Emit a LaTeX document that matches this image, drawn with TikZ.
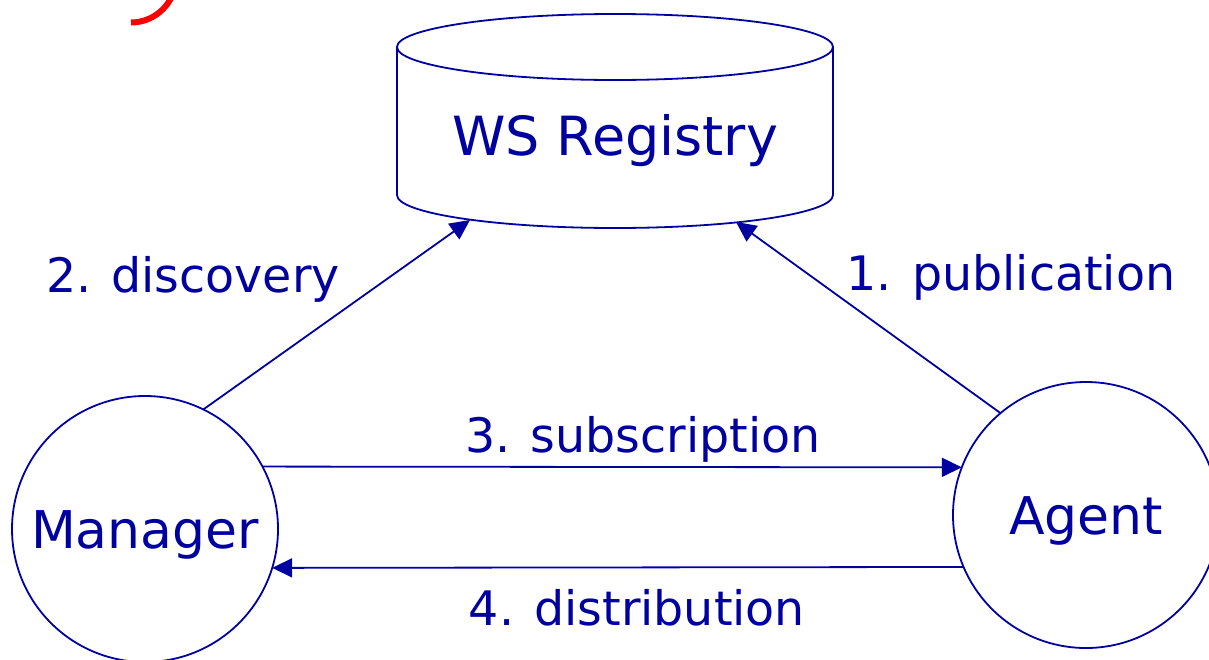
\documentclass[tikz,border=0pt]{standalone}
\usepackage{fontspec}
\setsansfont{DejaVu Sans}
\usetikzlibrary{arrows.meta}
\definecolor{wsblue}{RGB}{0,0,160}

\begin{document}
\begin{tikzpicture}[
  x=1pt, y=-1pt,
  font=\sffamily,
  actor/.style={draw=wsblue, circle, minimum size=266pt, inner sep=0pt, outer sep=0pt,
                line width=1.8pt, text=wsblue, text height=38pt, text depth=0pt,
                font=\sffamily\fontsize{52pt}{60pt}\selectfont},
  title/.style={text=wsblue, anchor=base, inner sep=0pt,
                font=\sffamily\fontsize{54pt}{62pt}\selectfont},
  msg/.style={text=wsblue, anchor=base, inner sep=0pt,
              font=\sffamily\fontsize{47.5pt}{56pt}\selectfont},
  store/.style={draw=wsblue, line width=1.8pt},
  flow/.style={-{Triangle[length=20pt,width=19pt]}, line width=1.8pt, wsblue},
]
  \useasboundingbox (0,0) rectangle (1209,659);

  % Registry
  \draw[store] (615,47) ellipse[x radius=218, y radius=33];
  \draw[store] (397,47) -- (397,195)
    arc[start angle=180, end angle=0, x radius=218, y radius=33] -- (833,47);
  \node[title] (reg) at (615,155) {WS Registry};
  \coordinate (regdisc) at (470,220);
  \coordinate (regpub) at (736,222);

  % Peers
  \node[actor] (man) at (145,529) {Manager};
  \node[actor] (agt) at (1086,515) {Agent};

  % red mark in the corner
  \draw[red, line width=6pt] (131,22.5) .. controls (155.8,22.5) and (176,2.3) .. (176,-22.5);

  \draw[flow] (agt.130) -- (regpub);
  \draw[flow] (man.64) -- (regdisc);
  \draw[flow] (man.28) -- (agt.159);
  \draw[flow] (agt.203) -- (man.-17);

  % Steps
  \node[msg] (lpub) at (1011,290) {1. publication};
  \node[msg] (ldisc) at (193,292) {2. discovery};
  \node[msg] (lsub) at (643,452) {3. subscription};
  \node[msg] (ldist) at (637,625) {4. distribution};
\end{tikzpicture}
\end{document}
